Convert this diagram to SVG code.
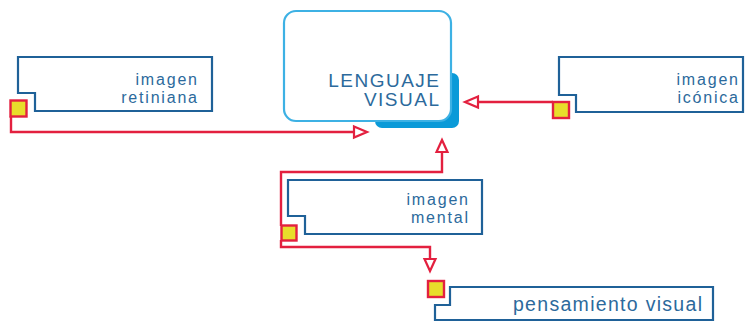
<svg xmlns="http://www.w3.org/2000/svg" width="746" height="321" viewBox="0 0 746 321">
<defs>
<style>
.box{fill:#fff;stroke:#1f6198;stroke-width:2.2;stroke-linejoin:miter}
.t{font-family:"Liberation Sans",Arial,sans-serif;fill:#2c6a9c;text-anchor:end}
.s{font-size:16px;letter-spacing:1.8px}
.con{fill:none;stroke:#e3203f;stroke-width:2.4;stroke-linejoin:miter}
.arr{fill:#fff;stroke:#e3203f;stroke-width:2.2;stroke-linejoin:miter}
.sq{fill:#e8dd2b;stroke:#e3203f;stroke-width:2.4}
</style>
</defs>
<rect width="746" height="321" fill="#fff"/>
<g id="connectors">
<path class="con" d="M11 116 V132 H354"/>
<path class="arr" d="M354 126.5 L367 132 L354 137.5 Z"/>
<path class="con" d="M553 102 H478"/>
<path class="arr" d="M478 96.5 L465 102 L478 107.5 Z"/>
<path class="con" d="M281 226 V172 H442 V152"/>
<path class="arr" d="M436.5 152 L442 140 L447.5 152 Z"/>
<path class="con" d="M281 240 V247 H430 V259"/>
<path class="arr" d="M424.5 259 L430 271 L435.5 259 Z"/>
</g>
<g id="lenguaje-visual">
<rect x="375" y="73" width="84" height="55" rx="7" fill="#0a9ad8"/>
<rect x="284" y="11" width="167" height="110" rx="12" fill="#fff" stroke="#3db1e4" stroke-width="2.2"/>
<text class="t" x="440.5" y="87" font-size="19" letter-spacing="1.5">LENGUAJE</text>
<text class="t" x="440.5" y="106" font-size="19" letter-spacing="1.5">VISUAL</text>
</g>
<g id="imagen-retiniana">
<path class="box" d="M18 57 H212 V111 H35 V93 H18 Z"/>
<text class="t s" x="198.8" y="85">imagen</text>
<text class="t s" x="198.8" y="103">retiniana</text>
<rect class="sq" x="10.5" y="100.5" width="16" height="16"/>
</g>
<g id="imagen-iconica">
<path class="box" d="M559 57 H743 V112 H576 V95 H559 Z"/>
<text class="t s" x="739.8" y="85">imagen</text>
<text class="t s" x="739.8" y="103">icónica</text>
<rect class="sq" x="553" y="102" width="16" height="16"/>
</g>
<g id="imagen-mental">
<path class="box" d="M288 180 H482 V234 H305 V216 H288 Z"/>
<text class="t s" x="469.8" y="205">imagen</text>
<text class="t s" x="469.8" y="223">mental</text>
<rect class="sq" x="281.5" y="225.5" width="15" height="15"/>
</g>
<g id="pensamiento-visual">
<path class="box" d="M450 287 H713 V320 H435 V305 H450 Z"/>
<text class="t" x="703.3" y="311" font-size="19.5" letter-spacing="1.3">pensamiento visual</text>
<rect class="sq" x="428" y="281" width="16" height="16"/>
</g>
</svg>
